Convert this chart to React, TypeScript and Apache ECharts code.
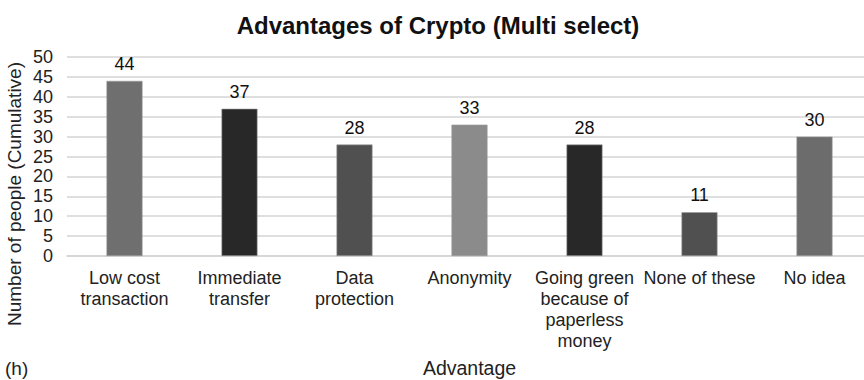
import React, { useEffect, useRef } from "react";
import * as echarts from "echarts";

const categories = [
  "Low cost\ntransaction",
  "Immediate\ntransfer",
  "Data\nprotection",
  "Anonymity",
  "Going green\nbecause of\npaperless\nmoney",
  "None of these",
  "No idea",
];
const values = [44, 37, 28, 33, 28, 11, 30];
const barColors = ["#6f6f6f", "#282828", "#505050", "#8b8b8b", "#282828", "#505050", "#6c6c6c"];
const yTicks = { min: 0, max: 50, interval: 5 };

const FONT = "'Liberation Sans', Arial, Helvetica, sans-serif";

export default function App() {
  const ref = useRef<HTMLDivElement>(null);
  useEffect(() => {
    if (!ref.current) return;
    const chart = echarts.init(ref.current, null, { renderer: "svg" });
    chart.setOption({
      animation: false,
      backgroundColor: "#ffffff",
      title: {
        text: "Advantages of Crypto (Multi select)",
        left: 433,
        textAlign: "center",
        top: 8,
        textStyle: { fontFamily: FONT, fontSize: 24, fontWeight: "bold", color: "#111" },
      },
      graphic: [
        {
          type: "text",
          x: 5,
          y: 368,
          style: {
            text: "(h)",
            fontFamily: FONT,
            fontSize: 19,
            fill: "#222",
            textVerticalAlign: "middle",
          },
        },
        {
          type: "text",
          x: 14,
          y: 194,
          rotation: Math.PI / 2,
          style: {
            text: "Number of people (Cumulative)",
            fontFamily: FONT,
            fontSize: 19,
            fill: "#222",
            textAlign: "center",
            textVerticalAlign: "middle",
          },
        },
      ],
      grid: { left: 67, top: 57, width: 805, height: 199, outerBoundsMode: "none", containLabel: false },
      xAxis: {
        type: "category",
        data: categories,
        name: "Advantage",
        nameLocation: "middle",
        nameGap: 102,
        nameTextStyle: { fontFamily: FONT, fontSize: 19.5, color: "#222" },
        axisLine: { lineStyle: { color: "#d4d4d4", width: 1.5 } },
        axisTick: { show: false },
        axisLabel: {
          interval: 0,
          fontFamily: FONT,
          fontSize: 18,
          color: "#222",
          lineHeight: 21,
          margin: 11,
        },
      },
      yAxis: {
        type: "value",
        min: yTicks.min,
        max: yTicks.max,
        interval: yTicks.interval,
        axisLine: { show: false },
        axisTick: { show: false },
        axisLabel: { fontFamily: FONT, fontSize: 18, color: "#222", margin: 14 },
        splitLine: { lineStyle: { color: "#d4d4d4", width: 1.5 } },
      },
      series: [
        {
          type: "bar",
          barWidth: 36,
          data: values.map((v, i) => ({
            value: v,
            itemStyle: { color: barColors[i], borderColor: "#9a9a9a", borderWidth: 0.6 },
          })),
          label: {
            show: true,
            position: "top",
            distance: 8,
            fontFamily: FONT,
            fontSize: 18,
            color: "#111",
          },
        },
      ],
    });
    return () => chart.dispose();
  }, []);
  return (
    <div
      ref={ref}
      style={{ position: "fixed", left: 0, top: 0, width: 864, height: 380 }}
    />
  );
}
